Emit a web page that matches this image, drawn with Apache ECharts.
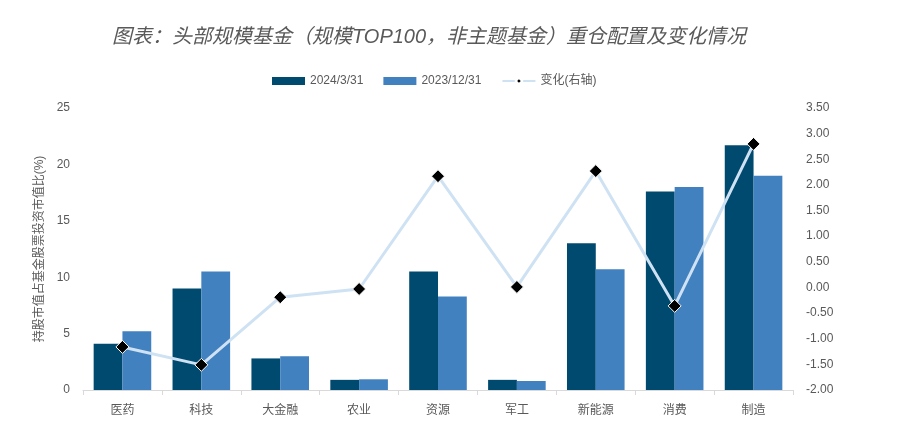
<!DOCTYPE html>
<html><head><meta charset="utf-8">
<script src="https://cdn.jsdelivr.net/npm/echarts@6/dist/echarts.min.js"></script>
<style>html,body{margin:0;padding:0;background:#fff}#c{width:902px;height:442px}</style>
</head><body><div id="c"></div>
<script>
const categories = ['医药','科技','大金融','农业','资源','军工','新能源','消费','制造'];
const s2024 = [4.1, 9.0, 2.8, 0.9, 10.5, 0.9, 13.0, 17.6, 21.7];
const s2023 = [5.2, 10.5, 3.0, 0.95, 8.3, 0.8, 10.7, 18.0, 19.0];
const change = [-1.16, -1.51, -0.19, -0.03, 2.17, 0.01, 2.27, -0.36, 2.80];
const seriesNames = ['2024/3/31','2023/12/31','变化(右轴)'];
const titleText = '图表：头部规模基金（规模TOP100，非主题基金）重仓配置及变化情况';
const yName = '持股市值占基金股票投资市值比(%)';

const chart = echarts.init(document.getElementById('c'));
const font = 'Liberation Sans, Arial, Noto Sans CJK SC, sans-serif';
chart.setOption({
  animation:false,
  textStyle:{fontFamily:font},
  title:{text:titleText,left:107,top:22,textStyle:{fontStyle:'italic',fontWeight:'normal',fontSize:20,color:'#595959',fontFamily:font}},
  legend:{top:70,left:267,itemGap:20,itemWidth:33,itemHeight:8,textStyle:{color:'#595959',fontSize:12},
    data:[{name:seriesNames[0],icon:'rect'},{name:seriesNames[1],icon:'rect'},{name:seriesNames[2]}]},
  grid:{left:83,right:109,top:108,bottom:52},
  xAxis:{type:'category',data:categories,
    axisLine:{lineStyle:{color:'#d9d9d9'}},
    axisTick:{show:true,alignWithLabel:false,length:5,lineStyle:{color:'#d9d9d9'}},
    axisLabel:{color:'#595959',fontSize:12,margin:15}},
  yAxis:[
    {type:'value',min:0,max:25,interval:5,splitLine:{show:false},axisLine:{show:false},axisTick:{show:false},
     axisLabel:{color:'#595959',fontSize:12,margin:13},
     name:yName,nameLocation:'middle',nameGap:27,nameRotate:90,nameTextStyle:{color:'#595959',fontSize:12}},
    {type:'value',min:-2,max:3.5,interval:0.5,splitLine:{show:false},axisLine:{show:false},axisTick:{show:false},
     axisLabel:{color:'#595959',fontSize:12,margin:13,formatter:v=>v.toFixed(2)}}
  ],
  series:[
    {name:seriesNames[0],type:'bar',data:s2024,barGap:'0%',barCategoryGap:'27%',
     itemStyle:{color:'#004a6f'}},
    {name:seriesNames[1],type:'bar',data:s2023,
     itemStyle:{color:'#4281bf'}},
    {name:seriesNames[2],type:'line',yAxisIndex:1,data:change,
     lineStyle:{color:'#cfe2f3',width:3},itemStyle:{color:'#000',borderColor:'#fff',borderWidth:1},
     symbol:'diamond',symbolSize:13,z:5}
  ]
});
</script></body></html>
